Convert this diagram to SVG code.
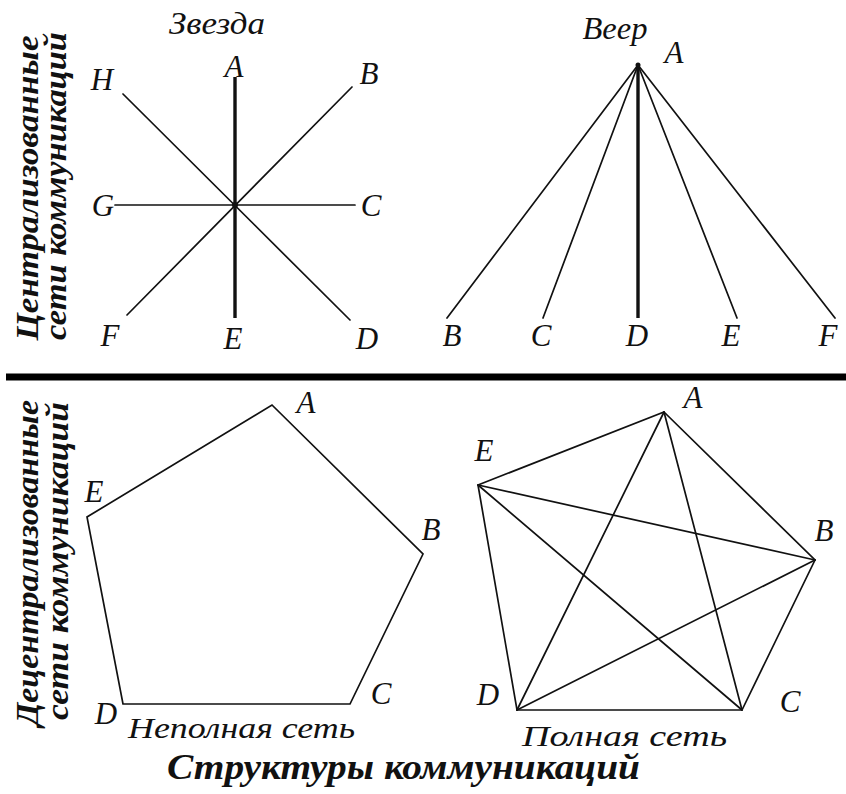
<svg xmlns="http://www.w3.org/2000/svg" width="846" height="794" viewBox="0 0 846 794">
<style>
.lbl{font-family:"Liberation Serif","Times New Roman",serif;font-style:italic;font-size:31px;fill:#111;text-anchor:middle}
.cap{font-family:"Liberation Serif","Times New Roman",serif;font-style:italic;font-size:30px;fill:#111}
.side{font-family:"Liberation Serif","Times New Roman",serif;font-style:italic;font-weight:bold;font-size:31px;fill:#111;text-anchor:middle}
.title{font-family:"Liberation Serif","Times New Roman",serif;font-style:italic;font-weight:bold;font-size:35px;fill:#111}
.ln{stroke:#111;stroke-width:1.7;fill:none;stroke-linecap:round}
.thick{stroke:#111;stroke-width:3.4;fill:none}
</style>
<rect width="846" height="794" fill="#fff"/>

<g id="side-titles">
<text class="side" transform="translate(38,188) rotate(-90)" textLength="305" lengthAdjust="spacingAndGlyphs">Централизованные</text>
<text class="side" transform="translate(66,186) rotate(-90)" textLength="308" lengthAdjust="spacingAndGlyphs">сети коммуникаций</text>
<text class="side" transform="translate(38,563) rotate(-90)" textLength="326" lengthAdjust="spacingAndGlyphs">Децентрализованные</text>
<text class="side" transform="translate(68,561) rotate(-90)" textLength="318" lengthAdjust="spacingAndGlyphs">сети коммуникаций</text>
</g>

<g id="divider">
<line x1="6" y1="377" x2="846" y2="377" stroke="#000" stroke-width="7"/>
</g>

<g id="connectors">
<!-- star -->
<line class="thick" x1="235" y1="77" x2="235" y2="318"/>
<line class="ln" x1="115" y1="205" x2="355" y2="205"/>
<line class="ln" x1="123" y1="94" x2="350" y2="320"/>
<line class="ln" x1="352" y1="87" x2="127" y2="315"/>
<!-- fan -->
<line class="ln" x1="638" y1="65" x2="447" y2="318"/>
<line class="ln" x1="638" y1="65" x2="543" y2="318"/>
<line class="thick" x1="638" y1="65" x2="638" y2="318"/>
<line class="ln" x1="638" y1="65" x2="737" y2="318"/>
<line class="ln" x1="638" y1="65" x2="835" y2="318"/>
<!-- incomplete pentagon -->
<polygon class="ln" points="272,405 423,554 350,704 123,704 87,517"/>
<!-- complete pentagon -->
<polygon class="ln" points="664,412 815,560 742,710 517,710 478,485"/>
<line class="ln" x1="664" y1="412" x2="742" y2="710"/>
<line class="ln" x1="664" y1="412" x2="517" y2="710"/>
<line class="ln" x1="478" y1="485" x2="815" y2="560"/>
<line class="ln" x1="478" y1="485" x2="742" y2="710"/>
<line class="ln" x1="517" y1="710" x2="815" y2="560"/>
</g>

<g id="star">
<circle cx="235" cy="205" r="3" fill="#111"/>
<text class="lbl" x="217" y="34" textLength="96" lengthAdjust="spacingAndGlyphs">Звезда</text>
<g id="star-A"><text class="lbl" x="234" y="77">A</text></g>
<g id="star-B"><text class="lbl" x="369" y="84">B</text></g>
<g id="star-C"><text class="lbl" x="371" y="216">C</text></g>
<g id="star-D"><text class="lbl" x="367" y="349">D</text></g>
<g id="star-E"><text class="lbl" x="233" y="349">E</text></g>
<g id="star-F"><text class="lbl" x="110" y="346">F</text></g>
<g id="star-G"><text class="lbl" x="103" y="216">G</text></g>
<g id="star-H"><text class="lbl" x="102" y="90">H</text></g>
</g>

<g id="fan">
<circle cx="638" cy="65" r="2.5" fill="#111"/>
<text class="lbl" x="615" y="39" textLength="65" lengthAdjust="spacingAndGlyphs">Веер</text>
<g id="fan-A"><text class="lbl" x="674" y="63">A</text></g>
<g id="fan-B"><text class="lbl" x="452" y="346">B</text></g>
<g id="fan-C"><text class="lbl" x="541" y="346">C</text></g>
<g id="fan-D"><text class="lbl" x="637" y="346">D</text></g>
<g id="fan-E"><text class="lbl" x="731" y="346">E</text></g>
<g id="fan-F"><text class="lbl" x="828" y="346">F</text></g>
</g>

<g id="incomplete">
<g id="inc-A"><text class="lbl" x="306" y="413">A</text></g>
<g id="inc-B"><text class="lbl" x="431" y="540">B</text></g>
<g id="inc-C"><text class="lbl" x="381" y="704">C</text></g>
<g id="inc-D"><text class="lbl" x="106" y="724">D</text></g>
<g id="inc-E"><text class="lbl" x="94" y="502">E</text></g>
<text class="cap" x="128" y="738" textLength="227" lengthAdjust="spacingAndGlyphs">Неполная сеть</text>
</g>

<g id="complete">
<g id="com-A"><text class="lbl" x="693" y="408">A</text></g>
<g id="com-B"><text class="lbl" x="824" y="541">B</text></g>
<g id="com-C"><text class="lbl" x="790" y="712">C</text></g>
<g id="com-D"><text class="lbl" x="488" y="705">D</text></g>
<g id="com-E"><text class="lbl" x="484" y="461">E</text></g>
<text class="cap" x="522" y="746" textLength="205" lengthAdjust="spacingAndGlyphs">Полная сеть</text>
</g>

<g id="caption">
<text class="title" x="167" y="779" textLength="473" lengthAdjust="spacingAndGlyphs">Структуры коммуникаций</text>
</g>
</svg>
